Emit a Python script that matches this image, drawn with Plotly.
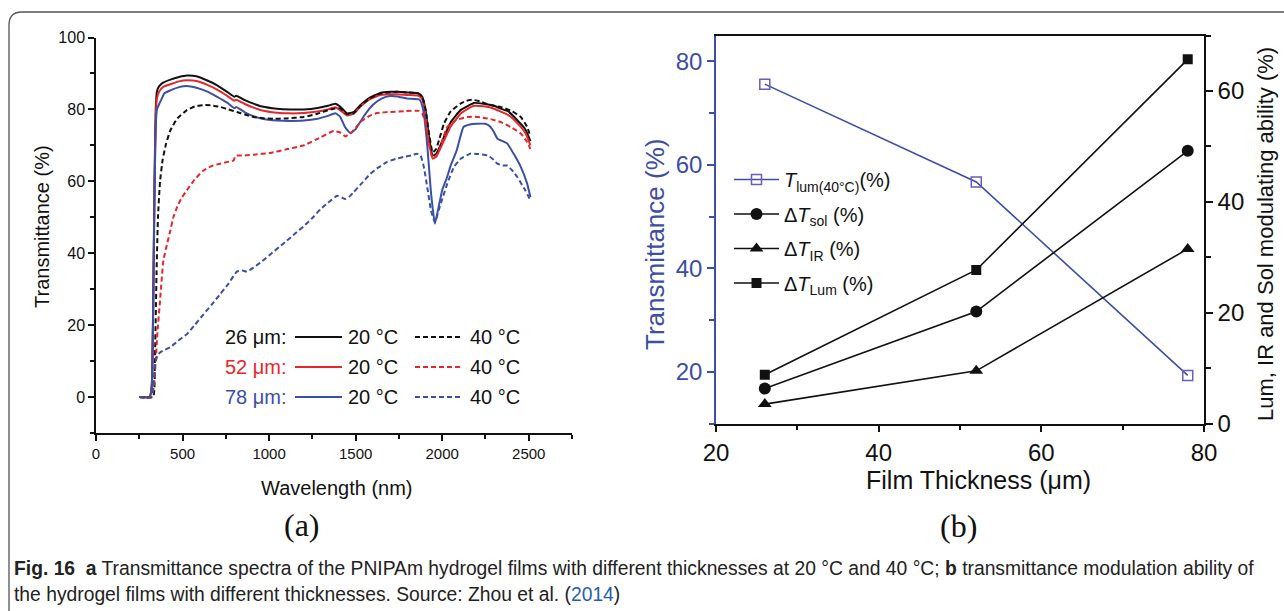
import plotly.graph_objects as go

W, H = 1284, 611

# ---------------- Panel (a) data: transmittance spectra ----------------
wl_bk20 = [250, 310, 322, 330, 338, 345, 352, 365, 390, 430, 480, 525, 580, 640, 700, 760, 800, 810, 860, 910,
           960, 1045, 1120, 1200, 1280, 1340, 1383, 1410, 1450, 1490, 1528, 1580, 1643, 1700, 1740, 1800, 1865,
           1885, 1904, 1925, 1945, 1965, 1985, 2010, 2050, 2106, 2150, 2183, 2250, 2300, 2338, 2380, 2434, 2480, 2510]
t_bk20 = [0, 0, 3, 25, 60, 80, 85, 86.5, 87.5, 88.3, 89, 89.4, 89.2, 88.1, 86.7, 84.8, 83.5, 83.8, 82.6, 81.6,
          80.8, 80.2, 80, 80, 80.4, 81, 81.6, 80.8, 78.9, 79.3, 81.2, 83.2, 84.6, 84.9, 84.9, 84.7, 84.4,
          83.5, 79.8, 72, 67.2, 67.6, 69.5, 72.3, 76.5, 79.8, 81, 81.8, 81.5, 81, 80.2, 79.5, 77, 74.5, 71.2]

wl_r20 = wl_bk20
t_r20 = [0, 0, 3, 24, 58, 78, 83, 85, 86.3, 87, 87.8, 88.1, 87.9, 86.9, 85.5, 83.7, 82.4, 82.7, 81.5, 80.5,
         79.7, 79.1, 78.9, 79, 79.4, 80, 80.6, 79.8, 78.3, 78.8, 80.8, 82.8, 84, 84.2, 84.2, 84, 83.8,
         82.8, 78.5, 70.5, 66.3, 66.8, 68.7, 71.3, 75.3, 78.8, 80.2, 81, 80.8, 80.2, 79.4, 78.5, 76.2, 73.5, 70]

wl_b20 = [250, 310, 322, 330, 338, 345, 352, 365, 380, 395, 430, 480, 525, 580, 640, 700, 760, 800, 810, 860,
          910, 960, 1045, 1120, 1200, 1280, 1340, 1383, 1410, 1440, 1470, 1500, 1550, 1600, 1650, 1700, 1740,
          1800, 1870, 1890, 1913, 1935, 1958, 1980, 2000, 2027, 2050, 2084, 2123, 2160, 2200, 2248, 2275, 2299,
          2320, 2338, 2376, 2415, 2454, 2490, 2510]
t_b20 = [0, 0, 3, 22, 55, 75, 80, 81.5, 83, 84.5, 85.3, 86.2, 86.5, 86, 85, 83.5, 81.8, 80.3, 80.7, 79.2,
         78.1, 77.4, 76.9, 76.8, 76.9, 77.4, 78.2, 78.9, 78, 75, 73.4, 74.5, 78.3, 81.3, 83, 83.7, 83.6,
         83, 82.7, 80, 70.5, 57, 48.2, 53, 57.5, 61, 64.5, 68.6, 75.1, 75.8, 76, 76, 75.3, 73.7,
         71.8, 71.4, 70.5, 67.5, 64, 59.5, 55.6]

wl_bk40 = [250, 330, 340, 350, 358, 370, 385, 405, 430, 470, 525, 570, 621, 670, 717, 765, 814, 860, 910, 960,
           1026, 1100, 1200, 1280, 1340, 1373, 1410, 1450, 1490, 1528, 1580, 1643, 1700, 1740, 1800, 1865,
           1885, 1904, 1925, 1945, 1965, 1985, 2010, 2050, 2106, 2140, 2173, 2220, 2260, 2300, 2338, 2400,
           2454, 2490, 2510]
t_bk40 = [0, 0, 10, 35, 50, 60, 66, 70.5, 74.2, 77.5, 79.8, 80.8, 81.2, 81.1, 80.7, 80, 79.3, 78.6, 77.9, 77.6,
          77.4, 77.5, 77.9, 78.8, 79.8, 80.2, 80.3, 78.7, 79, 81, 83, 84.4, 84.8, 84.9, 84.7, 84.4,
          83.5, 80, 73, 68, 69, 72, 76, 79.5, 81.6, 82.4, 82.7, 82.2, 81.5, 81, 80.7, 79.6,
          77.9, 75.2, 72.5]

wl_r40 = [250, 318, 335, 345, 355, 370, 389, 410, 428, 447, 470, 496, 525, 570, 621, 670, 717, 760, 795, 805,
          814, 860, 910, 1007, 1100, 1200, 1296, 1373, 1410, 1441, 1480, 1528, 1580, 1624, 1700, 1780, 1865,
          1885, 1905, 1925, 1945, 1965, 1985, 2029, 2080, 2145, 2180, 2222, 2280, 2338, 2400, 2454, 2490, 2510]
t_r40 = [0, 0, 3, 10, 18, 26.8, 37.9, 42.5, 46, 50, 53, 55.5, 57.5, 60.5, 63, 64.3, 64.9, 65.4, 65.8, 67,
         67.2, 67.2, 67.4, 67.9, 68.9, 70, 72.2, 74, 73.6, 72.5, 73.8, 76.5, 78.2, 79, 79.3, 79.5, 79.6,
         78.8, 76, 70, 66.5, 67, 69, 75.1, 77, 77.9, 78, 77.8, 77.3, 76.5, 75, 73.3, 71, 69]

wl_b40 = [250, 318, 330, 341, 355, 370, 400, 428, 470, 525, 570, 621, 670, 717, 765, 814, 845, 872, 910, 960,
          1010, 1060, 1103, 1150, 1200, 1250, 1296, 1340, 1393, 1420, 1441, 1465, 1489, 1540, 1585, 1630, 1682,
          1730, 1778, 1820, 1855, 1875, 1894, 1915, 1935, 1958, 1980, 2000, 2029, 2068, 2110, 2164, 2210,
          2261, 2290, 2319, 2350, 2376, 2405, 2434, 2480, 2510]
t_b40 = [0, 0, 3, 9.1, 11.5, 12.4, 13.2, 13.8, 15.5, 17.5, 20, 23, 25.8, 28.6, 31.5, 34.9, 35.2, 34.9, 36, 37.8,
         39.8, 41.8, 43.5, 45.5, 47.5, 49.8, 52.2, 54, 56, 55.5, 55.1, 55.8, 57, 59.7, 62.1, 63.8, 65.4,
         66.2, 66.8, 67.2, 67.7, 67.2, 64, 58, 52, 48.6, 52, 55, 59.3, 64, 66.4, 67.7, 67.6,
         67.2, 66.3, 64.9, 64.4, 64.4, 63, 61.2, 57.5, 54.7]

thick_labels = ["26 μm:", "52 μm:", "78 μm:"]
temp_labels = ["20 °C", "40 °C"]

# ---------------- Panel (b) data ----------------
thickness = [26, 52, 78]
t_lum40 = [75.6, 56.7, 19.3]
dt_sol = [6.3, 20.2, 49.2]
dt_ir = [3.5, 9.5, 31.5]
dt_lum = [8.8, 27.7, 65.7]

BLACK = "#111111"
RED = "#e8262a"
BLUE = "#3b4fa6"
BLUE_AX = "#3d4ea3"
PURPLE = "#6a5cb8"

def px(x):
    return x / W

def py(y):
    return 1 - y / H

fig = go.Figure()

series_a = [
    (wl_bk20, t_bk20, BLACK, "solid"),
    (wl_r20, t_r20, RED, "solid"),
    (wl_b20, t_b20, BLUE, "solid"),
    (wl_bk40, t_bk40, BLACK, "5px,3px"),
    (wl_r40, t_r40, RED, "5px,3px"),
    (wl_b40, t_b40, BLUE, "5px,3px"),
]
for xs, ys, col, dash in series_a:
    fig.add_trace(go.Scatter(x=xs, y=ys, mode="lines", xaxis="x", yaxis="y", showlegend=False,
                             line=dict(color=col, width=2, dash=dash, shape="spline", smoothing=0.4)))

# Panel (b)
fig.add_trace(go.Scatter(x=thickness, y=t_lum40, xaxis="x2", yaxis="y2", mode="lines+markers",
                         name="<i>T</i><sub>lum(40°C)</sub>(%)", legendgroup="g1",
                         line=dict(color=BLUE, width=1.6),
                         marker=dict(symbol="square-open", size=10, color=PURPLE, line=dict(width=1.5, color=PURPLE))))
fig.add_trace(go.Scatter(x=thickness, y=dt_sol, xaxis="x2", yaxis="y3", mode="lines+markers",
                         name="Δ<i>T</i><sub>sol</sub> (%)", legendgroup="g2",
                         line=dict(color=BLACK, width=1.6), marker=dict(symbol="circle", size=12, color=BLACK)))
fig.add_trace(go.Scatter(x=thickness, y=dt_ir, xaxis="x2", yaxis="y3", mode="lines+markers",
                         name="Δ<i>T</i><sub>IR</sub> (%)", legendgroup="g3",
                         line=dict(color=BLACK, width=1.6), marker=dict(symbol="triangle-up", size=12, color=BLACK)))
fig.add_trace(go.Scatter(x=thickness, y=dt_lum, xaxis="x2", yaxis="y3", mode="lines+markers",
                         name="Δ<i>T</i><sub>Lum</sub> (%)", legendgroup="g4",
                         line=dict(color=BLACK, width=1.6), marker=dict(symbol="square", size=10, color=BLACK)))

FONT = "Liberation Sans, Arial, sans-serif"
SERIF = "Liberation Serif, Times New Roman, serif"

axis_common = dict(showgrid=False, zeroline=False, ticks="outside", showline=True, automargin=False)

fig.update_layout(
    width=W, height=H,
    margin=dict(l=0, r=0, t=0, b=0),
    paper_bgcolor="white", plot_bgcolor="rgba(0,0,0,0)",
    font=dict(family=FONT, color=BLACK),
    xaxis=dict(domain=[px(96), px(572)], range=[0, 2750], anchor="y", tick0=0, dtick=500,
               linecolor=BLACK, linewidth=1.5, tickcolor=BLACK, tickwidth=1.5, ticklen=6,
               tickfont=dict(size=15, color=BLACK),
               minor=dict(dtick=250, ticklen=4, tickcolor=BLACK, tickwidth=1.5, ticks="outside"),
               **axis_common),
    yaxis=dict(domain=[py(433), py(37.5)], range=[-10, 100], anchor="x", tick0=0, dtick=20,
               linecolor=BLACK, linewidth=1.5, tickcolor=BLACK, tickwidth=1.5, ticklen=6,
               tickfont=dict(size=16, color=BLACK),
               minor=dict(dtick=10, ticklen=4, tickcolor=BLACK, tickwidth=1.5, ticks="outside"),
               **axis_common),
    xaxis2=dict(domain=[px(716), px(1204)], range=[20, 80], anchor="y2", tick0=20, dtick=20,
                linecolor=BLACK, linewidth=1.6, tickcolor=BLACK, tickwidth=1.5, ticklen=7, mirror=True,
                tickfont=dict(size=24, color=BLACK),
                minor=dict(dtick=10, ticklen=5, tickcolor=BLACK, tickwidth=1.5, ticks="outside"),
                **axis_common),
    yaxis2=dict(domain=[py(423.5), py(35.5)], range=[10, 85], anchor="x2", tick0=0, dtick=20,
                linecolor=BLUE_AX, linewidth=1.6, tickcolor=BLUE_AX, tickwidth=1.5, ticklen=7,
                tickfont=dict(size=24, color=BLUE_AX),
                minor=dict(dtick=10, ticklen=5, tickcolor=BLUE_AX, tickwidth=1.5, ticks="outside"),
                **axis_common),
    yaxis3=dict(domain=[py(423.5), py(35.5)], range=[0, 70], anchor="x2", overlaying="y2", side="right",
                tick0=0, dtick=20,
                linecolor=BLACK, linewidth=1.6, tickcolor=BLACK, tickwidth=1.5, ticklen=7,
                tickfont=dict(size=24, color=BLACK),
                minor=dict(dtick=10, ticklen=5, tickcolor=BLACK, tickwidth=1.5, ticks="outside"),
                **axis_common),
    legend=dict(x=px(729), y=py(160), xanchor="left", yanchor="top", bgcolor="rgba(0,0,0,0)",
                font=dict(size=20, color=BLACK, family=FONT), itemwidth=45, tracegroupgap=5.5,
                borderwidth=0),
    showlegend=True,
)

def ann(text, x, y, size, color=BLACK, family=FONT, angle=0, xanchor="center"):
    return dict(text=text, x=px(x), y=py(y), xref="paper", yref="paper", xanchor=xanchor, yanchor="middle",
                textangle=angle, showarrow=False, font=dict(size=size, color=color, family=family))

annotations = [
    ann("Transmittance (%)", 42, 226, 20, angle=-90),
    ann("Wavelength (nm)", 337, 488, 20),
    ann("(a)", 302, 525, 32, family=SERIF),
    ann("Transmittance (%)", 655, 245, 26, color=BLUE_AX, angle=-90),
    ann("Lum, IR and Sol modulating ability (%)", 1265, 234, 22, angle=-90),
    ann("Film Thickness (μm)", 978, 480, 25),
    ann("(b)", 958, 526, 32, family=SERIF),
]

# panel (a) legend (table layout)
row_y = [337, 367, 397]
row_col = [BLACK, RED, BLUE]
shapes = []
for lab, yy, col in zip(thick_labels, row_y, row_col):
    annotations.append(ann(lab, 289, yy, 20, color=col, xanchor="right"))
    annotations.append(ann(temp_labels[0], 346, yy, 20, xanchor="left"))
    annotations.append(ann(temp_labels[1], 468, yy, 20, xanchor="left"))
    shapes.append(dict(type="line", xref="paper", yref="paper", x0=px(295), x1=px(342), y0=py(yy), y1=py(yy),
                       line=dict(color=col, width=2)))
    shapes.append(dict(type="line", xref="paper", yref="paper", x0=px(415), x1=px(463), y0=py(yy), y1=py(yy),
                       line=dict(color=col, width=2, dash="5px,3px")))

# caption
annotations.append(ann(
    "<b>Fig. 16</b>  <b>a</b> Transmittance spectra of the PNIPAm hydrogel films with different thicknesses at 20 °C and 40 °C; <b>b</b> transmittance modulation ability of",
    12, 568, 19.3, color="#222222", xanchor="left"))
annotations.append(ann(
    "the hydrogel films with different thicknesses. Source: Zhou et al. (<span style='color:#1f5fb0'>2014</span>)",
    12, 594, 19.3, color="#222222", xanchor="left"))

# outer rounded frame
shapes.append(dict(type="path", xref="paper", yref="paper", layer="above",
                   path=f"M {px(1300)},{py(12)} L {px(22)},{py(12)} Q {px(9)},{py(12)} {px(9)},{py(25)} L {px(9)},{py(640)}",
                   line=dict(color="#555555", width=1.3)))

fig.update_layout(annotations=annotations, shapes=shapes)

fig.write_html("out.html")
